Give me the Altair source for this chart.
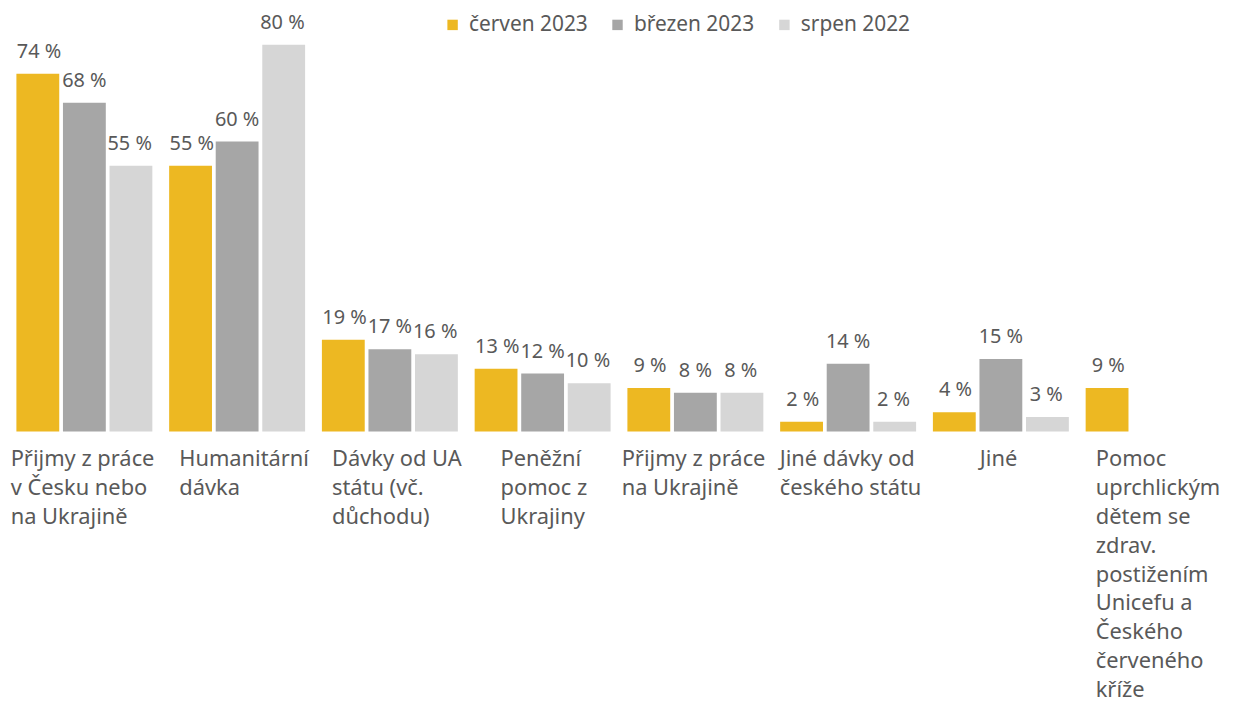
import altair as alt
import pandas as pd

categories = [
    "Přijmy z práce|v Česku nebo|na Ukrajině",
    "Humanitární|dávka",
    "Dávky od UA|státu (vč.|důchodu)",
    "Peněžní|pomoc z|Ukrajiny",
    "Přijmy z práce|na Ukrajině",
    "Jiné dávky od|českého státu",
    "Jiné",
    "Pomoc|uprchlickým|dětem se|zdrav.|postižením|Unicefu a|Českého|červeného|kříže",
]
series = ["červen 2023", "březen 2023", "srpen 2022"]
cerven_2023 = [74, 55, 19, 13, 9, 2, 4, 9]
brezen_2023 = [68, 60, 17, 12, 8, 14, 15, None]
srpen_2022 = [55, 80, 16, 10, 8, 2, 3, None]
colors = ["#EDB822", "#A6A6A6", "#D6D6D6"]

rows = []
for s, vals in zip(series, [cerven_2023, brezen_2023, srpen_2022]):
    for c, v in zip(categories, vals):
        if v is not None:
            rows.append({"cat": c, "serie": s, "value": v, "label": f"{v} %"})
df = pd.DataFrame(rows)

cat_df = pd.DataFrame({
    "cat": categories,
    "nchar": [max(len(p) for p in c.split("|")) for c in categories],
})

FONT = "Noto Sans"
TXT = "#595959"

W, H = 1230, 416
P_IN, P_OUT = 0.11, 0.055
step = W / (len(categories) - P_IN + 2 * P_OUT)
half_bw = step * (1 - P_IN) / 2

x = alt.X("cat:N", sort=categories,
          scale=alt.Scale(paddingInner=P_IN, paddingOuter=P_OUT),
          axis=None)
xo = alt.XOffset("serie:N", sort=series, scale=alt.Scale(domain=series, paddingInner=0.08))
y = alt.Y("value:Q", scale=alt.Scale(domain=[0, 85.5]), axis=None)

bars = alt.Chart(df).mark_bar().encode(
    x=x, xOffset=xo, y=y,
    color=alt.Color("serie:N", sort=series,
                    scale=alt.Scale(domain=series, range=colors),
                    legend=alt.Legend(title=None, orient="none", legendX=437, legendY=-4,
                                      direction="horizontal", symbolType="square",
                                      symbolSize=110, symbolStrokeWidth=0,
                                      labelFont=FONT, labelFontSize=21, labelColor=TXT,
                                      columnPadding=19, symbolOffset=0, labelOffset=6)),
)

labels = alt.Chart(df).mark_text(font=FONT, fontSize=20, color=TXT,
                                 baseline="alphabetic", dy=-16).encode(
    x=x, xOffset=xo, y=y, text="label:N")

cat_labels = alt.Chart(cat_df).transform_calculate(
    off=f"{half_bw:.2f} - min(datum.nchar * 10.6, 150) / 2",
).mark_text(font=FONT, fontSize=22, color=TXT, align="left", baseline="top",
            lineHeight=29, lineBreak="|").encode(
    x=alt.X("cat:N", sort=categories),
    xOffset=alt.XOffset("off:Q", scale=None),
    y=alt.value(434),
    text="cat:N",
)

chart = alt.layer(bars, labels, cat_labels).resolve_scale(xOffset="independent").properties(
    width=W, height=H,
    autosize=alt.AutoSizeParams(type="none"),
    padding={"left": 0, "top": 8, "right": 0, "bottom": 270},
).configure_view(stroke=None)

chart.save("out.html", embed_options={"renderer": "svg", "actions": False})
